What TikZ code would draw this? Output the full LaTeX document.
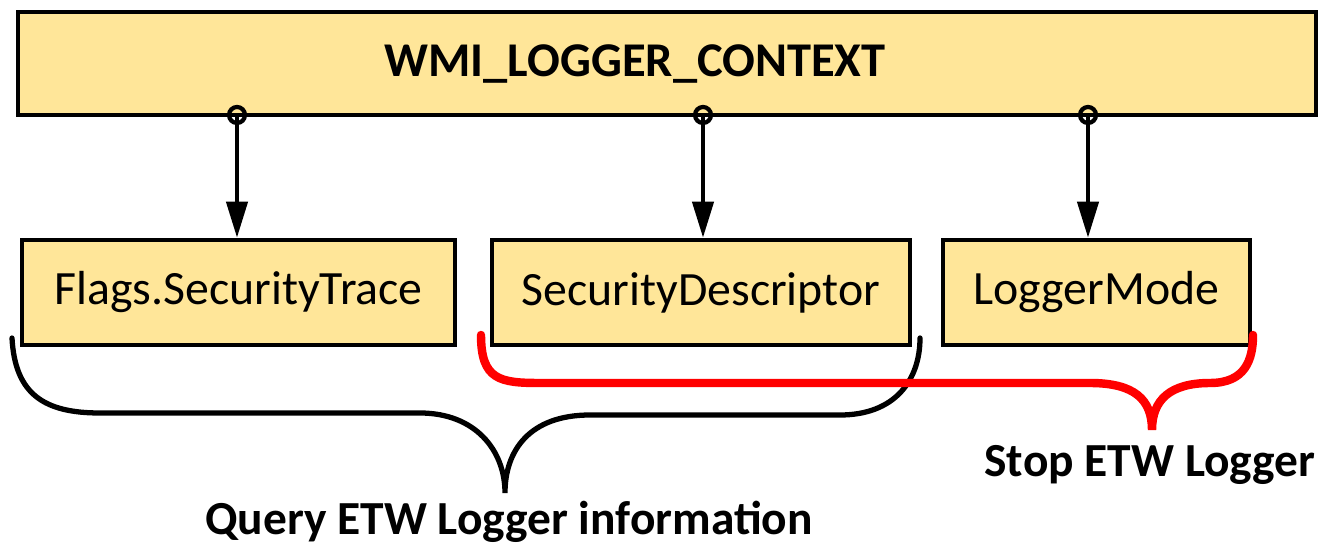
\documentclass[tikz,border=0pt]{standalone}
\usepackage{fontspec}
\setmainfont{Carlito}
\usetikzlibrary{arrows.meta,calc}
\definecolor{boxfill}{HTML}{FFE699}

\begin{document}
\begin{tikzpicture}[
    field/.style={draw, line width=1.3pt, fill=boxfill, minimum height=1.05cm,
      inner sep=0pt, font=\fontsize{13.6}{15}\selectfont},
    link/.style={line width=1.2pt, -{Triangle[length=0.36cm,width=0.21cm]}},
    brace/.style={line width=1.5pt, line cap=round},
    label/.style={font=\fontsize{13.5}{16}\selectfont\bfseries}
  ]
    \useasboundingbox (0,0) rectangle (13.31,-5.46);
    \node[field, minimum width=12.98cm, minimum height=1.03cm, font=\fontsize{13.8}{16}\selectfont\bfseries]
      (ctx) at (6.67,-0.635) {WMI\_LOGGER\_CONTEXT\hspace*{0.64cm}};
    \node[field, minimum width=4.33cm] (flags) at (2.385,-2.925) {Flags.SecurityTrace};
    \node[field, minimum width=4.18cm] (desc) at (7.01,-2.925) {SecurityDescriptor};
    \node[field, minimum width=3.07cm] (mode) at (10.965,-2.925) {LoggerMode};
    % fields of the context
    \foreach \f/\x in {flags/2.37, desc/7.03, mode/10.88} {
      \coordinate (\f-top) at (\x,-1.15);
      \draw[link] (\f-top) -- (\f-top |- \f.north);
      \draw[line width=1.2pt] (\f-top) circle (0.08);
    }
    % brace for the query
    \draw[brace] (0.12,-3.38) .. controls (0.15,-3.95) and (0.45,-4.13) .. (1.0,-4.13)
      -- (4.2,-4.13) .. controls (4.75,-4.13) and (5.05,-4.5) .. (5.05,-4.93)
      .. controls (5.05,-4.5) and (5.3,-4.15) .. (5.9,-4.15)
      -- (8.4,-4.15) .. controls (8.95,-4.15) and (9.2,-3.8) .. (9.2,-3.38);
    % brace for stopping
    \draw[brace, red, line width=2.4pt] (4.81,-3.35) .. controls (4.81,-3.8) and (5.0,-3.83) .. (5.4,-3.83)
      -- (10.9,-3.83) .. controls (11.35,-3.83) and (11.52,-4.0) .. (11.52,-4.3)
      .. controls (11.52,-4.0) and (11.7,-3.83) .. (12.1,-3.83)
      .. controls (12.45,-3.83) and (12.53,-3.6) .. (12.53,-3.35);
    \node[label] (query) at (5.09,-5.22) {Query ETW Logger information};
    \node[label] (stop) at (11.5,-4.65) {Stop ETW Logger};
  \end{tikzpicture}
\end{document}
